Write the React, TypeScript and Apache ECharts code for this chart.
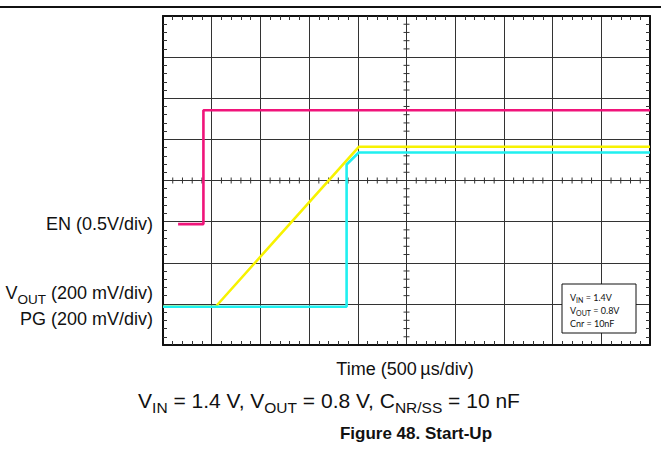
import React, { useEffect, useRef } from "react";
import * as echarts from "echarts";

// Time in microseconds (500 µs/div, 10 divisions)
const enTime = [155, 415, 415, 5000];
const enLevel = [2.94, 2.94, 5.71, 5.71]; // screen divisions from bottom
const voutTime = [0, 540, 2010, 5000];
const voutLevel = [0.93, 0.93, 4.82, 4.82];
const pgTime = [0, 1885, 1885, 2010, 5000];
const pgLevel = [0.93, 0.93, 4.39, 4.68, 4.68];

const timeMax = 5000;
const timeDiv = 500;
const levelMax = 8;
const minorPerDiv = 5;

const zip = (xs: number[], ys: number[]) => xs.map((x, i) => [x, ys[i]]);

const GRID = { left: 163, top: 16, width: 487, height: 329 };
const FONT = "Liberation Sans, Arial, sans-serif";

export default function App() {
  const ref = useRef<HTMLDivElement>(null);
  useEffect(() => {
    if (!ref.current) return;
    const chart = echarts.init(ref.current, undefined, { renderer: "svg" });

    const axisBase = {
      type: "value" as const,
      axisLabel: { show: false },
      axisTick: { show: false, inside: true },
      minorTick: { show: true, splitNumber: minorPerDiv, length: 4, lineStyle: { color: "#333", width: 1 } },
    };

    const borderLine = { show: true, onZero: false, lineStyle: { color: "#111", width: 2 } };
    const boxRich = {
      m: { fontSize: 9, fontFamily: "Lato, sans-serif", lineHeight: 12, fill: "#111" },
      s: { fontSize: 7, fontFamily: "Lato, sans-serif", lineHeight: 7, verticalAlign: "bottom", fill: "#111" },
    };

    const option: any = {
      animation: false,
      backgroundColor: "#fff",
      grid: { ...GRID, containLabel: false },
      xAxis: [
        {
          ...axisBase,
          min: 0,
          max: timeMax,
          interval: timeDiv,
          position: "bottom",
          axisLine: borderLine,
          splitLine: { show: true, lineStyle: { color: "#333", width: 1 } },
        },
        {
          ...axisBase,
          min: 0,
          max: timeMax,
          interval: timeDiv,
          position: "top",
          axisLine: borderLine,
          splitLine: { show: false },
        },
      ],
      yAxis: [
        {
          ...axisBase,
          min: 0,
          max: levelMax,
          interval: 1,
          position: "left",
          axisLine: borderLine,
          splitLine: { show: true, lineStyle: { color: "#333", width: 1 } },
        },
        {
          ...axisBase,
          min: 0,
          max: levelMax,
          interval: 1,
          position: "right",
          axisLine: borderLine,
          splitLine: { show: false },
        },
      ],
      series: [
        {
          type: "custom",
          xAxisIndex: 0,
          yAxisIndex: 0,
          silent: true,
          data: [[0, 0]],
          renderItem: (_params: any, api: any) => {
            const children: any[] = [];
            const step = timeDiv / minorPerDiv;
            const nX = Math.round(timeMax / step);
            for (let i = 1; i < nX; i++) {
              if (i % minorPerDiv === 0) continue;
              const p = api.coord([i * step, levelMax / 2]);
              children.push({
                type: "line",
                shape: { x1: p[0], y1: p[1] - 3, x2: p[0], y2: p[1] + 3 },
                style: { stroke: "#333", lineWidth: 1 },
              });
            }
            const ystep = 1 / minorPerDiv;
            const nY = Math.round(levelMax / ystep);
            for (let j = 1; j < nY; j++) {
              if (j % minorPerDiv === 0) continue;
              const p = api.coord([timeMax / 2, j * ystep]);
              children.push({
                type: "line",
                shape: { x1: p[0] - 3, y1: p[1], x2: p[0] + 3, y2: p[1] },
                style: { stroke: "#333", lineWidth: 1 },
              });
            }
            return { type: "group", children };
          },
        },
        {
          name: "EN",
          type: "line",
          data: zip(enTime, enLevel),
          symbol: "none",
          lineStyle: { color: "#f0147a", width: 2.6 },
        },
        {
          name: "VOUT",
          type: "line",
          data: zip(voutTime, voutLevel),
          symbol: "none",
          lineStyle: { color: "#f7f200", width: 2.6 },
        },
        {
          name: "PG",
          type: "line",
          data: zip(pgTime, pgLevel),
          symbol: "none",
          lineStyle: { color: "#1ff0f0", width: 2.6 },
        },
      ],
      graphic: [
        {
          type: "line",
          shape: { x1: 0, y1: 7, x2: 661, y2: 7 },
          style: { stroke: "#111", lineWidth: 2 },
        },
        {
          type: "text",
          style: {
            x: 153,
            y: 224,
            text: "EN (0.5V/div)",
            font: `18px ${FONT}`,
            fill: "#111",
            align: "right",
            verticalAlign: "middle",
          },
        },
        {
          type: "text",
          style: {
            x: 153,
            y: 293,
            text: "{m|V}{s|OUT}{m| (200 mV/div)}",
            align: "right",
            verticalAlign: "middle",
            rich: {
              m: { fontSize: 18, fontFamily: FONT, lineHeight: 26, fill: "#111" },
              s: { fontSize: 13.5, fontFamily: FONT, lineHeight: 13, verticalAlign: "bottom", fill: "#111" },
            },
          },
        },
        {
          type: "text",
          style: {
            x: 153,
            y: 319,
            text: "PG (200 mV/div)",
            font: `18px ${FONT}`,
            fill: "#111",
            align: "right",
            verticalAlign: "middle",
          },
        },
        {
          type: "rect",
          z: 100,
          shape: { x: 562, y: 284, width: 74, height: 49 },
          style: { fill: "#fff", stroke: "#111", lineWidth: 1 },
        },
        {
          type: "text",
          z: 101,
          style: { x: 570, y: 297, text: "{m|V}{s|IN}{m| = 1.4V}", align: "left", verticalAlign: "middle", rich: boxRich },
        },
        {
          type: "text",
          z: 101,
          style: { x: 570, y: 310, text: "{m|V}{s|OUT}{m| = 0.8V}", align: "left", verticalAlign: "middle", rich: boxRich },
        },
        {
          type: "text",
          z: 101,
          style: {
            x: 570,
            y: 323,
            text: "Cnr = 10nF",
            font: "9px Lato, sans-serif",
            fill: "#111",
            align: "left",
            verticalAlign: "middle",
          },
        },
        {
          type: "text",
          style: {
            x: 405,
            y: 369,
            text: "Time (500\u2009µs/div)",
            font: `18px ${FONT}`,
            fill: "#111",
            align: "center",
            verticalAlign: "middle",
          },
        },
        {
          type: "text",
          style: {
            x: 329,
            y: 400,
            text: "{m|V}{s|IN}{m| = 1.4 V, V}{s|OUT}{m| = 0.8 V, C}{s|NR/SS}{m| = 10 nF}",
            align: "center",
            verticalAlign: "middle",
            rich: {
              m: { fontSize: 21, fontFamily: FONT, lineHeight: 30, fill: "#111" },
              s: { fontSize: 15.5, fontFamily: FONT, lineHeight: 15, verticalAlign: "bottom", fill: "#111" },
            },
          },
        },
        {
          type: "text",
          style: {
            x: 416,
            y: 433,
            text: "Figure 48. Start-Up",
            font: `bold 17px ${FONT}`,
            fill: "#111",
            align: "center",
            verticalAlign: "middle",
          },
        },
      ],
    };

    chart.setOption(option);
    return () => chart.dispose();
  }, []);

  return (
    <div
      ref={ref}
      style={{ position: "absolute", left: 0, top: 0, width: 661, height: 460 }}
    />
  );
}
